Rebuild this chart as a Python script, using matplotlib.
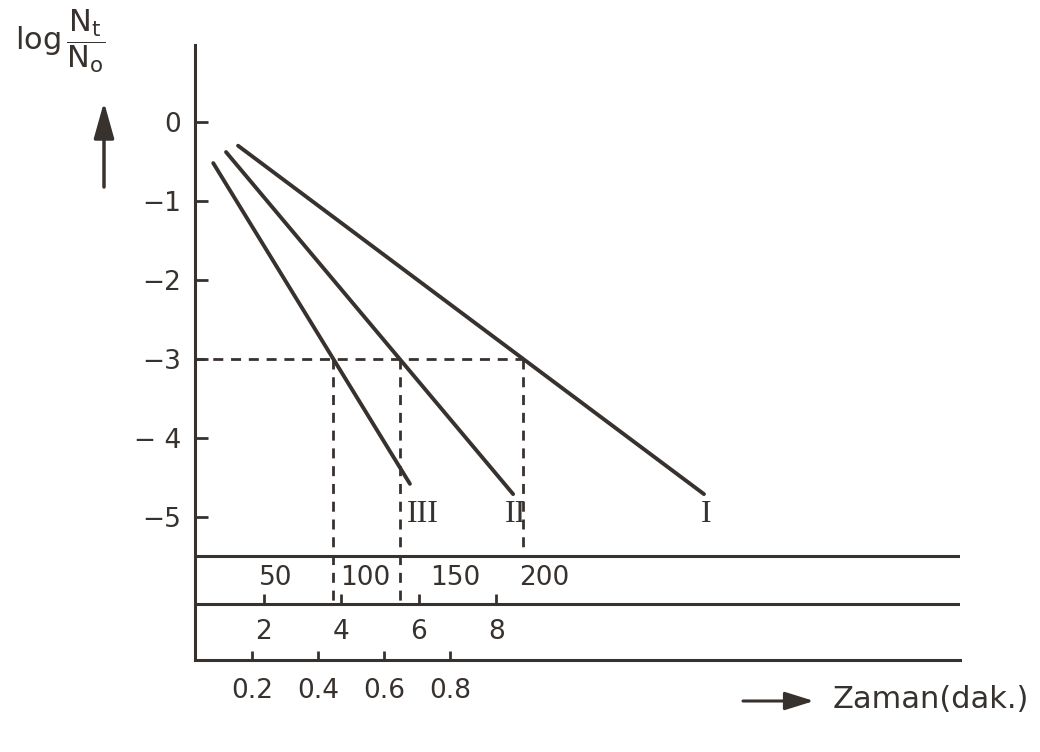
import numpy as np
import matplotlib.pyplot as plt

# survival lines (time in dak., middle scale)
curve_names = ['III', 'II', 'I']
t_start = [0.70, 1.03, 1.34]
y_start = [-0.52, -0.38, -0.30]
t_end = [5.77, 8.43, 13.35]
y_end = [-4.58, -4.71, -4.71]

y_ticks = [0, -1, -2, -3, -4, -5]
y_tick_labels = ['0', '\u22121', '\u22122', '\u22123', '\u2212 4', '\u22125']
level = -3  # reading level for the dashed lines

# the three scales drawn under the plot
scale_top = [50, 100, 150, 200]
scale_mid = [2, 4, 6, 8]
scale_bot = [0.2, 0.4, 0.6, 0.8]
top_factor = 0.0462   # top scale unit -> dak.
bot_factor = 8.5      # bottom scale unit -> dak.

ink = '#38322f'
plt.rcParams['font.family'] = 'DejaVu Sans'
plt.rcParams['mathtext.fontset'] = 'dejavusans'

fig = plt.figure(figsize=(10.4, 7.52), dpi=100)
ax = fig.add_axes([195 / 1040, 92 / 752, 765 / 1040, 615 / 752])
ax.set_xlim(0.23, 19.95)
ax.set_ylim(-6.81, 0.975)
x_left, y_bottom = 0.23, -6.81

for s in ['top', 'right']:
    ax.spines[s].set_visible(False)
for s in ['left', 'bottom']:
    ax.spines[s].set_color(ink)
    ax.spines[s].set_linewidth(2.2)
ax.set_xticks([])
ax.set_yticks(y_ticks, y_tick_labels)
ax.tick_params(axis='y', direction='in', length=9, width=2, color=ink,
               labelcolor=ink, labelsize=19, pad=10)

# band lines holding the extra scales
band1, band2 = -5.49, -6.10
ax.axhline(band1, color=ink, lw=2.2)
ax.axhline(band2, color=ink, lw=2.2)

# lines + roman labels
label_off = {'III': (9, -22), 'II': (1.5, -15), 'I': (1.5, -15)}
dash = (0, (3.6, 2.8))
dash_to = {'III': band2, 'II': band2, 'I': band1}
t_cross = []
for name, t0, y0, t1, y1 in zip(curve_names, t_start, y_start, t_end, y_end):
    ax.plot([t0, t1], [y0, y1], color=ink, lw=2.8, solid_capstyle='round')
    ax.annotate(name, (t1, y1), xytext=label_off[name], textcoords='offset points',
                ha='center', va='center', fontsize=23, color=ink,
                family='Liberation Serif')
    tc = np.interp(level, [y1, y0], [t1, t0])
    t_cross.append(tc)
    ax.plot([tc, tc], [level, dash_to[name]], color=ink, lw=2, linestyle=dash)

ax.plot([x_left, max(t_cross)], [level, level], color=ink, lw=2, linestyle=dash)

# top scale
for v in scale_top:
    ax.text(v * top_factor, (band1 + band2) / 2 + 0.02, str(v), ha='center',
            va='center', fontsize=19, color=ink)

# middle scale
ax.vlines(scale_mid, band2, band2 + 0.13, colors=ink, lw=2)
for v in scale_mid:
    ax.text(v, (band2 + y_bottom) / 2, str(v), ha='center', va='center',
            fontsize=19, color=ink)

# bottom scale
bot_x = np.array(scale_bot) * bot_factor
ax.vlines(bot_x, y_bottom, y_bottom + 0.11, colors=ink, lw=2)
for x, v in zip(bot_x, scale_bot):
    ax.annotate(f'{v:.1f}', (x, y_bottom), xytext=(0, -22), textcoords='offset points',
                ha='center', va='center', fontsize=19, color=ink, annotation_clip=False)

# axis captions
fig.text(15 / 1040, 1 - 41 / 752,
         r'$\mathrm{log}\,\dfrac{\mathrm{N_t}}{\mathrm{N_o}}$',
         ha='left', va='center', fontsize=22, color=ink)
ax.annotate('', xy=(104, 752 - 102), xytext=(104, 752 - 187), xycoords='figure pixels',
            textcoords='figure pixels',
            arrowprops=dict(arrowstyle='-|>,head_length=1.0,head_width=0.28',
                            mutation_scale=22, lw=2.5, color=ink, shrinkA=0, shrinkB=0))
ax.annotate('', xy=(814, 752 - 701), xytext=(743, 752 - 701), xycoords='figure pixels',
            textcoords='figure pixels',
            arrowprops=dict(arrowstyle='-|>,head_length=0.8,head_width=0.25',
                            mutation_scale=22, lw=2.2, color=ink, shrinkA=0, shrinkB=0))
fig.text(833 / 1040, 1 - 700 / 752, 'Zaman(dak.)', ha='left', va='center',
         fontsize=22, color=ink)

fig.savefig('out.png', dpi=100, facecolor='white')
